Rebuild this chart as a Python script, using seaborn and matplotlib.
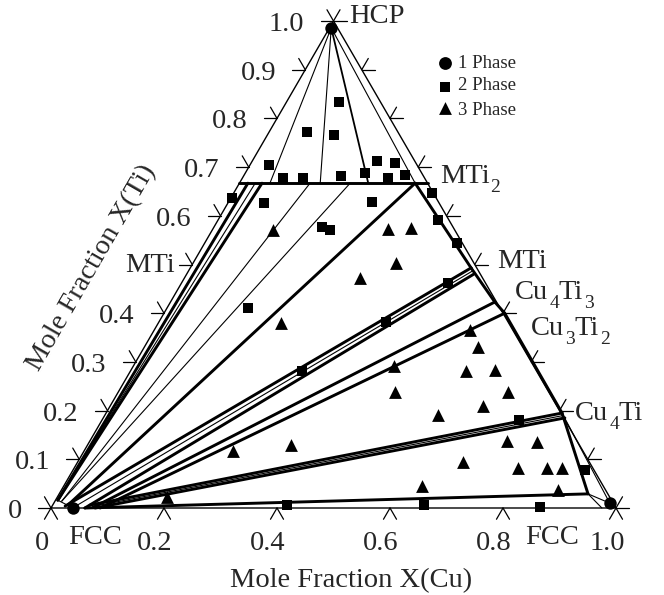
import matplotlib
matplotlib.use("Agg")
import numpy as np
import pandas as pd
import matplotlib.pyplot as plt
import seaborn as sns

# ---------------- data: compositions (X(Cu), X(Ti)) ----------------
one_phase_cu = [0.003, 0.039, 0.984]
one_phase_ti = [0.986, 0.000, 0.010]

two_phase_cu = [0.034, 0.072, 0.107, 0.067, 0.118, 0.093, 0.172, 0.212, 0.221, 0.258,
                0.255, 0.285, 0.002, 0.064, 0.191, 0.208, 0.254, 0.143, 0.351, 0.389,
                0.447, 0.472, 0.402, 0.304, 0.738, 0.906, 0.415, 0.657, 0.864]
two_phase_ti = [0.704, 0.678, 0.678, 0.772, 0.766, 0.834, 0.682, 0.688, 0.713, 0.678,
                0.708, 0.684, 0.637, 0.626, 0.577, 0.571, 0.628, 0.411, 0.647, 0.591,
                0.544, 0.462, 0.382, 0.281, 0.181, 0.078, 0.006, 0.006, 0.002]

three_phase_cu = [0.108, 0.310, 0.350, 0.359, 0.311, 0.217, 0.559, 0.590, 0.461, 0.594,
                  0.644, 0.690, 0.490, 0.660, 0.590, 0.738, 0.792, 0.360, 0.264, 0.682,
                  0.786, 0.837, 0.863, 0.879, 0.634, 0.194]
three_phase_ti = [0.571, 0.573, 0.575, 0.503, 0.472, 0.380, 0.366, 0.331, 0.292, 0.281,
                  0.283, 0.238, 0.238, 0.209, 0.191, 0.138, 0.136, 0.129, 0.117, 0.094,
                  0.082, 0.082, 0.082, 0.037, 0.045, 0.023]

# tie lines / phase boundaries: (Cu1, Ti1, Cu2, Ti2)
thick_lines = [
    (0.000, 0.667, 0.333, 0.667),
    (0.004, 0.016, 0.015, 0.667),
    (0.004, 0.016, 0.040, 0.667),
    (0.027, 0.006, 0.311, 0.667),
    (0.311, 0.667, 0.497, 0.493),
    (0.497, 0.493, 0.574, 0.423),
    (0.574, 0.423, 0.603, 0.400),
    (0.603, 0.400, 0.807, 0.195),
    (0.807, 0.195, 0.936, 0.029),
    (0.023, 0.004, 0.497, 0.493),
    (0.060, 0.000, 0.508, 0.480),
    (0.075, 0.002, 0.574, 0.423),
    (0.087, 0.000, 0.603, 0.400),
    (0.066, 0.006, 0.807, 0.195),
    (0.078, 0.000, 0.817, 0.185),
    (0.060, 0.000, 0.936, 0.029),
]
medium_lines = [
    (0.003, 0.986, 0.228, 0.667),
]
thin_lines = [
    (0.003, 0.986, 0.054, 0.667),
    (0.003, 0.986, 0.143, 0.667),
    (0.003, 0.986, 0.311, 0.667),
    (0.012, 0.014, 0.125, 0.667),
    (0.012, 0.014, 0.196, 0.667),
    (0.004, 0.016, 0.028, 0.667),
    (0.040, 0.002, 0.503, 0.487),
    (0.072, 0.003, 0.812, 0.190),
    (0.807, 0.195, 0.984, 0.010),
    (0.936, 0.029, 0.984, 0.010),
    (0.936, 0.029, 0.975, 0.000),
    (0.004, 0.016, 0.039, 0.000),
]

left_tick_ti = [0.0, 0.1, 0.2, 0.3, 0.4, 0.5, 0.6, 0.7, 0.8, 0.9, 1.0]
left_tick_labels = ["0", "0.1", "0.2", "0.3", "0.4", "MTi", "0.6", "0.7", "0.8", "0.9", "1.0"]
right_tick_ti = [0.0, 0.1, 0.2, 0.3, 0.4, 0.5, 0.6, 0.7, 0.8, 0.9, 1.0]
bottom_tick_cu = [0.0, 0.2, 0.4, 0.6, 0.8, 1.0]
bottom_tick_labels = ["0", "0.2", "0.4", "0.6", "0.8", "1.0"]
# phase names as (text, is_subscript) pieces
phase_names = [
    [("HCP", False)],
    [("MTi", False), ("2", True)],
    [("MTi", False)],
    [("Cu", False), ("4", True), ("Ti", False), ("3", True)],
    [("Cu", False), ("3", True), ("Ti", False), ("2", True)],
    [("Cu", False), ("4", True), ("Ti", False)],
]
legend_labels = ["1 Phase", "2 Phase", "3 Phase"]

# ---------------- style ----------------
sns.set_theme(style="white")
plt.rcParams["font.family"] = ["Liberation Serif", "DejaVu Serif"]

SX, SY = 565.0, 487.0      # pixels per unit
X0, Y0 = 51.0, 508.0       # pixel position of composition (0, 0)
W, H = 664, 595

fig = plt.figure(figsize=(W / 100, H / 100), dpi=100)
ax = fig.add_axes([0, 0, 1, 1])
ax.set_xlim(-X0 / SX, (W - X0) / SX)
ax.set_ylim((Y0 - H) / SY, Y0 / SY)
ax.axis("off")
renderer = fig.canvas.get_renderer()


def to_uv(cu, ti):
    cu = np.asarray(cu, float)
    ti = np.asarray(ti, float)
    return cu + ti / 2.0, ti


def pix(px, py):
    return (px - X0) / SX, (Y0 - py) / SY


def uv_to_pix(u, v):
    return X0 + SX * u, Y0 - SY * v


def seg_frame(lines):
    rows = []
    for i, (c1, t1, c2, t2) in enumerate(lines):
        for c, t in ((c1, t1), (c2, t2)):
            u, v = to_uv(c, t)
            rows.append({"u": float(u), "v": float(v), "seg": i})
    return pd.DataFrame(rows)


# triangle frame
fu, fv = to_uv([0, 1, 0, 0], [0, 0, 1, 0])
ax.plot(fu, fv, color="black", lw=1.0, solid_joinstyle="miter")

for lines, lw in ((thin_lines, 0.8), (medium_lines, 1.3), (thick_lines, 2.1)):
    sns.lineplot(data=seg_frame(lines), x="u", y="v", units="seg", estimator=None,
                 sort=False, color="black", linewidth=lw, legend=False, ax=ax)

# ticks
L = 13.0
ex, ey = 0.5018, 0.865


def tick(u, v, dirs):
    for dx, dy in dirs:
        ax.plot([u, u + dx * L / SX], [v, v - dy * L / SY], color="black", lw=0.9)


for t in left_tick_ti:
    u, v = to_uv(0.0, t)
    tick(float(u), float(v), [(-1, 0), (-ex, -ey)])
for t in right_tick_ti:
    u, v = to_uv(1.0 - t, t)
    tick(float(u), float(v), [(1, 0), (ex, -ey)])
for c in bottom_tick_cu:
    u, v = to_uv(c, 0.0)
    tick(float(u), float(v), [(-ex, ey), (ex, ey)])

FS = 20.5
SUB_FS = 14.0
# left labels
for t, lab in zip(left_tick_ti, left_tick_labels):
    u, v = to_uv(0.0, t)
    px, py = uv_to_pix(float(u), float(v))
    if lab == "MTi":
        ax.text(*pix(px - 17, py + 8), lab, ha="right", va="baseline", fontsize=FS)
    else:
        ax.text(*pix(px - 29, py + 10), lab, ha="right", va="baseline", fontsize=FS)

# bottom labels
for c, lab in zip(bottom_tick_cu, bottom_tick_labels):
    px, py = uv_to_pix(c, 0.0)
    ax.text(*pix(px - 9, 550), lab, ha="center", va="baseline", fontsize=FS)
ax.text(*pix(95, 544), "FCC", ha="center", va="baseline", fontsize=FS)
ax.text(*pix(552, 544), "FCC", ha="center", va="baseline", fontsize=FS)


def rich_text(px, py, pieces):
    x = px
    for txt, sub in pieces:
        if sub:
            t = ax.text(*pix(x + 0.5, py + 9), txt, ha="left", va="baseline", fontsize=SUB_FS)
        else:
            t = ax.text(*pix(x, py), txt, ha="left", va="baseline", fontsize=FS)
        x += t.get_window_extent(renderer).width + 0.5


# compound labels on the right side
name_pos = [(349, 23), (440, 183), (497, 268), (515, 299), (531, 335), (575, 420)]
for pieces, (px, py) in zip(phase_names, name_pos):
    rich_text(px, py, pieces)

# axis titles
ax.text(*pix(351, 587), "Mole Fraction X(Cu)", ha="center", va="baseline", fontsize=FS)
ax.text(*pix(92, 268), "Mole Fraction X(Ti)", ha="center", va="center", fontsize=FS,
        rotation=60, rotation_mode="anchor")

# data markers
u1, v1 = to_uv(one_phase_cu, one_phase_ti)
u2, v2 = to_uv(two_phase_cu, two_phase_ti)
u3, v3 = to_uv(three_phase_cu, three_phase_ti)
sns.scatterplot(x=u2, y=v2, marker="s", s=44, color="black", linewidth=0, ax=ax, zorder=5)
sns.scatterplot(x=u3, y=v3, marker="^", s=85, color="black", linewidth=0, ax=ax, zorder=5)
sns.scatterplot(x=u1, y=v1, marker="o", s=80, color="black", linewidth=0, ax=ax, zorder=6)

# legend
leg_marks = ["o", "s", "^"]
leg_sizes = [85, 44, 85]
leg_mark_y = [63, 87, 108]
leg_text_y = [68, 90, 115]
for m, s, my, ty, lab in zip(leg_marks, leg_sizes, leg_mark_y, leg_text_y, legend_labels):
    lx, ly = pix(445, my)
    ax.scatter([lx], [ly], marker=m, s=s, color="black", linewidths=0)
    ax.text(*pix(458, ty), lab, ha="left", va="baseline", fontsize=13.5)

fig.savefig("out.png", dpi=100)
